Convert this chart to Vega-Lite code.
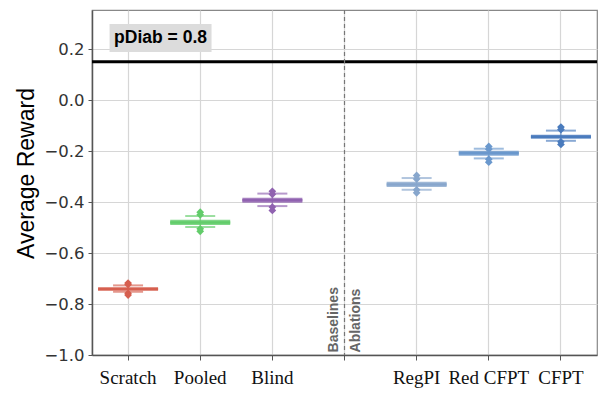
{
  "$schema": "https://vega.github.io/schema/vega-lite/v6.json",
  "width": 505,
  "height": 345,
  "autosize": {"type": "none"},
  "padding": {"left": 92, "top": 10, "right": 11, "bottom": 53},
  "background": "white",
  "config": {
    "view": {"stroke": "#888", "strokeWidth": 1.2},
    "axis": {"gridColor": "#d6d6d6", "gridWidth": 1.2, "domainColor": "#555", "domainWidth": 1.5, "tickColor": "#555"}
  },
  "datasets": {
    "boxes": [
      {"method": "Scratch", "lo": -0.752, "q1": -0.748, "median": -0.741, "q3": -0.734, "hi": -0.727},
      {"method": "Pooled", "lo": -0.498, "q1": -0.490, "median": -0.480, "q3": -0.470, "hi": -0.455},
      {"method": "Blind", "lo": -0.416, "q1": -0.403, "median": -0.393, "q3": -0.383, "hi": -0.367},
      {"method": "RegPI", "lo": -0.352, "q1": -0.341, "median": -0.331, "q3": -0.321, "hi": -0.306},
      {"method": "Red CFPT", "lo": -0.229, "q1": -0.219, "median": -0.209, "q3": -0.199, "hi": -0.191},
      {"method": "CFPT", "lo": -0.160, "q1": -0.152, "median": -0.144, "q3": -0.136, "hi": -0.120}
    ],
    "fliers": [
      {"method": "Scratch", "value": -0.718}, {"method": "Scratch", "value": -0.724},
      {"method": "Scratch", "value": -0.758}, {"method": "Scratch", "value": -0.765},
      {"method": "Pooled", "value": -0.440}, {"method": "Pooled", "value": -0.450},
      {"method": "Pooled", "value": -0.505}, {"method": "Pooled", "value": -0.515},
      {"method": "Blind", "value": -0.358}, {"method": "Blind", "value": -0.370},
      {"method": "Blind", "value": -0.420}, {"method": "Blind", "value": -0.433},
      {"method": "RegPI", "value": -0.296}, {"method": "RegPI", "value": -0.310},
      {"method": "RegPI", "value": -0.352}, {"method": "RegPI", "value": -0.364},
      {"method": "Red CFPT", "value": -0.182}, {"method": "Red CFPT", "value": -0.193},
      {"method": "Red CFPT", "value": -0.232}, {"method": "Red CFPT", "value": -0.244},
      {"method": "CFPT", "value": -0.106}, {"method": "CFPT", "value": -0.116},
      {"method": "CFPT", "value": -0.164}, {"method": "CFPT", "value": -0.174}
    ],
    "ref": [{"value": 0.15}],
    "divider": [{"method": "gap"}],
    "sections": [{"label": "Baselines"}, {"label": "Ablations"}],
    "note": [{"label": "pDiab = 0.8"}]
  },
  "layer": [
    {
      "data": {"name": "boxes"},
      "mark": {"type": "rule", "strokeWidth": 1.5, "opacity": 0.6},
      "encoding": {
        "x": {
          "field": "method", "type": "nominal",
          "scale": {"type": "band", "domain": ["Scratch", "Pooled", "Blind", "gap", "RegPI", "Red CFPT", "CFPT"], "paddingInner": 0, "paddingOuter": 0},
          "sort": null,
          "axis": {
            "title": null, "labelAngle": 0, "labelExpr": "datum.value == 'gap' ? '' : datum.value",
            "labelFont": "Liberation Serif", "labelFontSize": 19, "labelColor": "#111",
            "labelPadding": 8, "tickSize": 5, "grid": true
          }
        },
        "y": {
          "field": "lo", "type": "quantitative",
          "scale": {"domain": [-1.0, 0.353], "nice": false, "zero": false},
          "axis": {
            "title": "Average Reward", "titleFont": "Liberation Sans", "titleFontSize": 23,
            "titleFontWeight": "normal", "titleColor": "#000", "titlePadding": 5, "titleY": 163,
            "values": [-1.0, -0.8, -0.6, -0.4, -0.2, 0.0, 0.2], "format": ".1f",
            "labelFont": "DejaVu Sans", "labelFontSize": 16.5, "labelColor": "#333",
            "tickSize": 4, "labelPadding": 4, "grid": true
          }
        },
        "y2": {"field": "hi"},
        "color": {
          "field": "method", "type": "nominal", "legend": null,
          "scale": {"domain": ["Scratch", "Pooled", "Blind", "RegPI", "Red CFPT", "CFPT"],
                    "range": ["#d65f4f", "#62cc6a", "#9062b0", "#87a6cc", "#6a98cd", "#4a7bbd"]}
        }
      }
    },
    {
      "data": {"name": "boxes"},
      "mark": {"type": "tick", "size": 30, "thickness": 2, "opacity": 0.65},
      "encoding": {
        "x": {"field": "method", "type": "nominal"},
        "y": {"field": "lo", "type": "quantitative"},
        "color": {"field": "method", "type": "nominal"}
      }
    },
    {
      "data": {"name": "boxes"},
      "mark": {"type": "tick", "size": 30, "thickness": 2, "opacity": 0.65},
      "encoding": {
        "x": {"field": "method", "type": "nominal"},
        "y": {"field": "hi", "type": "quantitative"},
        "color": {"field": "method", "type": "nominal"}
      }
    },
    {
      "data": {"name": "boxes"},
      "mark": {"type": "bar", "size": 60, "opacity": 0.8},
      "encoding": {
        "x": {"field": "method", "type": "nominal"},
        "y": {"field": "q1", "type": "quantitative"},
        "y2": {"field": "q3"},
        "color": {"field": "method", "type": "nominal"}
      }
    },
    {
      "data": {"name": "boxes"},
      "mark": {"type": "tick", "size": 60, "thickness": 2.5, "opacity": 1},
      "encoding": {
        "x": {"field": "method", "type": "nominal"},
        "y": {"field": "median", "type": "quantitative"},
        "color": {"field": "method", "type": "nominal"}
      }
    },
    {
      "data": {"name": "fliers"},
      "mark": {"type": "point", "shape": "diamond", "filled": true, "size": 60, "opacity": 1},
      "encoding": {
        "x": {"field": "method", "type": "nominal"},
        "y": {"field": "value", "type": "quantitative"},
        "color": {"field": "method", "type": "nominal"}
      }
    },
    {
      "data": {"name": "ref"},
      "mark": {"type": "rule", "color": "#000", "strokeWidth": 3},
      "encoding": {"y": {"field": "value", "type": "quantitative"}}
    },
    {
      "data": {"name": "divider"},
      "mark": {"type": "rule", "color": "#777", "strokeWidth": 1.2, "strokeDash": [4, 3]},
      "encoding": {"x": {"field": "method", "type": "nominal"}}
    },
    {
      "data": {"name": "sections"},
      "transform": [{"filter": "datum.label == 'Baselines'"}],
      "mark": {"type": "text", "angle": 270, "align": "left", "baseline": "alphabetic", "dy": -7,
               "font": "Liberation Sans", "fontWeight": "bold", "fontSize": 14, "color": "#666"},
      "encoding": {
        "x": {"datum": "gap"},
        "y": {"datum": -0.99},
        "text": {"field": "label"}
      }
    },
    {
      "data": {"name": "sections"},
      "transform": [{"filter": "datum.label == 'Ablations'"}],
      "mark": {"type": "text", "angle": 270, "align": "left", "baseline": "top", "dy": 4,
               "font": "Liberation Sans", "fontWeight": "bold", "fontSize": 14, "color": "#666"},
      "encoding": {
        "x": {"datum": "gap"},
        "y": {"datum": -0.99},
        "text": {"field": "label"}
      }
    },
    {
      "data": {"name": "note"},
      "mark": {"type": "point", "shape": "M-1,-0.275H1V0.275H-1Z", "size": 10404, "filled": true,
               "color": "#dcdcdc", "opacity": 1, "strokeWidth": 0},
      "encoding": {
        "x": {"datum": "Scratch", "bandPosition": 0.95},
        "y": {"datum": 0.243}
      }
    },
    {
      "data": {"name": "note"},
      "mark": {"type": "text", "align": "center", "baseline": "middle",
               "font": "Liberation Sans", "fontWeight": "bold", "fontSize": 17.5, "color": "#000"},
      "encoding": {
        "x": {"datum": "Scratch", "bandPosition": 0.95},
        "y": {"datum": 0.243},
        "text": {"field": "label"}
      }
    }
  ]
}
